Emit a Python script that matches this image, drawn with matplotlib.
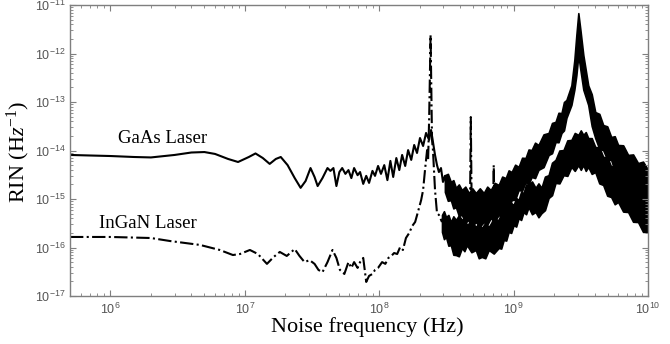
import matplotlib
matplotlib.use("Agg")
import matplotlib.pyplot as plt
from matplotlib.ticker import LogLocator, FuncFormatter, NullFormatter
import numpy as np

plt.rcParams['mathtext.fontset'] = 'custom'
plt.rcParams['mathtext.rm'] = 'Liberation Serif'
plt.rcParams['mathtext.it'] = 'Liberation Serif:italic'

# ---------------- data ----------------
# GaAs laser: low-frequency line (Hz, 1/Hz)
gaas_freq = [5e5, 7e5, 1e6, 1.5e6, 2e6, 3e6, 4e6, 5e6, 6e6, 7.5e6, 8.9e6,
             1.07e7, 1.2e7, 1.36e7, 1.53e7, 1.7e7, 1.85e7, 2.08e7, 2.35e7, 2.6e7, 2.83e7,
             3.08e7, 3.3e7, 3.48e7, 3.78e7, 4.12e7, 4.33e7, 4.56e7, 4.8e7, 5.05e7, 5.3e7,
             5.6e7, 5.9e7, 6.2e7, 6.5e7, 6.9e7, 7.2e7, 7.6e7, 8.0e7, 8.4e7, 8.9e7,
             9.3e7, 9.8e7, 1.03e8, 1.09e8, 1.15e8, 1.21e8, 1.27e8, 1.34e8, 1.41e8, 1.48e8,
             1.56e8, 1.64e8, 1.73e8, 1.82e8, 1.91e8, 2.01e8, 2.12e8, 2.23e8, 2.35e8, 2.43e8,
             2.51e8, 2.6e8, 2.69e8, 2.78e8, 2.88e8, 2.98e8, 3.08e8, 3.19e8]
gaas_rin = [8.1e-15, 7.9e-15, 7.7e-15, 7.35e-15, 7.2e-15, 8.1e-15, 9.1e-15, 9.3e-15, 8.5e-15, 6.7e-15, 5.8e-15,
            7.35e-15, 8.7e-15, 7.0e-15, 5.3e-15, 6.7e-15, 7.35e-15, 5.0e-15, 2.7e-15, 1.7e-15, 2.35e-15,
            4.35e-15, 2.85e-15, 1.85e-15, 2.7e-15, 4.35e-15, 3.8e-15, 4.35e-15, 1.85e-15, 3.6e-15, 4.35e-15,
            3.3e-15, 3.95e-15, 2.7e-15, 4.35e-15, 3.1e-15, 3.6e-15, 2.05e-15, 3.0e-15, 2.15e-15, 3.8e-15,
            3.0e-15, 4.8e-15, 3.3e-15, 5.0e-15, 2.45e-15, 6.1e-15, 2.85e-15, 7.0e-15, 3.95e-15, 8.1e-15,
            4.8e-15, 1.02e-14, 6.4e-15, 1.3e-14, 8.9e-15, 1.81e-14, 1.24e-14, 2.3e-14, 1.65e-14, 2.65e-14,
            1.5e-14, 8.1e-15, 5.0e-15, 3.6e-15, 4.35e-15, 2.25e-15, 3.0e-15, 1.7e-15]

# GaAs laser: dense noise band above 300 MHz (upper / lower envelopes)
gaas_band_freq = [3.08e8, 3.24e8, 3.41e8, 3.56e8, 3.72e8, 3.91e8, 4.12e8, 4.37e8, 4.64e8, 4.93e8,
                  5.23e8, 5.6e8, 5.99e8, 6.36e8, 6.75e8, 7.23e8, 7.74e8, 8.22e8, 8.73e8, 9.18e8,
                  9.66e8, 1.026e9, 1.089e9, 1.156e9, 1.227e9, 1.292e9, 1.36e9, 1.443e9, 1.53e9, 1.669e9,
                  1.82e9, 1.93e9, 2.05e9, 2.157e9, 2.27e9, 2.368e9, 2.47e9, 2.69e9, 2.83e9, 2.93e9,
                  3.03e9, 3.14e9, 3.30e9, 3.59e9, 3.81e9, 4.05e9, 4.34e9, 4.64e9, 4.97e9, 5.32e9,
                  5.65e9, 5.99e9, 6.53e9, 7.11e9, 7.74e9, 8.43e9, 9.18e9, 1e10]
gaas_band_high = [3.1e-15, 3.3e-15, 2.25e-15, 2.45e-15, 1.7e-15, 2.0e-15, 1.53e-15, 1.8e-15, 1.33e-15, 1.66e-15,
                  1.33e-15, 1.66e-15, 1.33e-15, 1.8e-15, 1.53e-15, 2.15e-15, 1.95e-15, 2.9e-15, 2.7e-15, 3.9e-15,
                  3.6e-15, 5.1e-15, 4.6e-15, 7.1e-15, 7.0e-15, 1.05e-14, 1.02e-14, 1.45e-14, 1.3e-14, 2.15e-14,
                  2.3e-14, 3.7e-14, 3.9e-14, 6.0e-14, 5.9e-14, 1.0e-13, 1.1e-13, 2.2e-13, 7.3e-13, 2.41e-12,
                  6.8e-12, 3.05e-12, 9.3e-13, 2.2e-13, 1.45e-13, 6.2e-14, 5.7e-14, 3.35e-14, 3.15e-14, 1.9e-14,
                  1.97e-14, 1.3e-14, 1.28e-14, 8.1e-15, 8.3e-15, 5.5e-15, 5.9e-15, 4.0e-15]
gaas_band_low = [1.4e-15, 9.2e-16, 9.5e-16, 6.4e-16, 6.8e-16, 4.5e-16, 4.7e-16, 3.3e-16, 3.7e-16, 2.8e-16,
                 3.35e-16, 2.7e-16, 3.35e-16, 2.95e-16, 4.05e-16, 3.5e-16, 4.7e-16, 4.2e-16, 5.9e-16, 6.0e-16,
                 9.5e-16, 9.7e-16, 1.53e-15, 1.48e-15, 2.25e-15, 2.0e-15, 2.85e-15, 2.7e-15, 4.0e-15, 4.55e-15,
                 8.1e-15, 8.8e-15, 1.5e-14, 1.48e-14, 2.3e-14, 2.6e-14, 4.7e-14, 8.7e-14, 1.8e-13, 3.6e-13,
                 9.3e-13, 4.6e-13, 1.8e-13, 8.7e-14, 3.2e-14, 1.8e-14, 1.08e-14, 1.02e-14, 6.5e-15, 6.4e-15,
                 3.8e-15, 3.6e-15, 1.88e-15, 1.53e-15, 7.6e-16, 5.9e-16, 2.95e-16, 2.3e-16]

# InGaN laser: low-frequency line
ingan_freq = [5e5, 1e6, 2e6, 2.78e6, 4.64e6, 6.5e6, 8.15e6, 9.2e6, 1.09e7, 1.25e7, 1.46e7,
              1.64e7, 1.82e7, 2.05e7, 2.35e7, 2.55e7, 2.78e7, 3.03e7, 3.3e7, 3.53e7, 3.78e7,
              4.12e7, 4.49e7, 4.8e7, 5.1e7, 5.5e7, 5.9e7, 6.2e7, 6.5e7, 6.9e7, 7.2e7,
              7.6e7, 8.0e7, 8.4e7, 8.9e7, 9.3e7, 9.8e7, 1.05e8, 1.11e8, 1.17e8, 1.23e8,
              1.29e8, 1.36e8, 1.43e8, 1.5e8, 1.58e8, 1.67e8, 1.76e8, 1.85e8, 1.94e8, 2.05e8,
              2.12e8, 2.19e8, 2.27e8, 2.31e8, 2.35e8, 2.41e8, 2.47e8, 2.51e8, 2.6e8, 2.69e8,
              2.78e8, 2.93e8]
ingan_rin = [1.65e-16, 1.65e-16, 1.57e-16, 1.36e-16, 1.13e-16, 8.9e-17, 7.0e-17, 7.35e-17, 8.9e-17, 7.35e-17, 4.6e-17,
             6.4e-17, 8.1e-17, 6.7e-17, 9.3e-17, 6.7e-17, 5.0e-17, 5.5e-17, 4.6e-17, 3.45e-17, 3.1e-17,
             5.0e-17, 8.9e-17, 6.1e-17, 3.45e-17, 2.85e-17, 5.0e-17, 3.8e-17, 5.0e-17, 3.8e-17, 5.0e-17,
             6.1e-17, 1.95e-17, 2.6e-17, 2.85e-17, 3.45e-17, 3.8e-17, 5.0e-17, 4.6e-17, 6.1e-17, 6.7e-17,
             7.7e-17, 7.35e-17, 1.02e-16, 8.9e-17, 1.57e-16, 1.99e-16, 2.78e-16, 3.36e-16, 5.4e-16, 9.5e-16,
             1.53e-15, 3.96e-15, 1.02e-14, 6.4e-15, 4.25e-14, 2.4e-12, 1.65e-14, 1.02e-14, 1.53e-15, 5.1e-16,
             4.7e-16, 3.35e-16]

# InGaN laser: dense noise band
ingan_band_freq = [2.93e8, 3.03e8, 3.14e8, 3.27e8, 3.41e8, 3.56e8, 3.72e8, 3.91e8, 4.12e8, 4.3e8,
                   4.49e8, 4.85e8, 5.23e8, 5.5e8, 5.79e8, 6.15e8, 6.53e8, 7.11e8, 7.74e8, 8.08e8,
                   8.43e8, 8.8e8, 9.18e8, 9.58e8, 1.0e9, 1.044e9, 1.089e9, 1.136e9, 1.186e9, 1.237e9,
                   1.29e9, 1.37e9, 1.455e9, 1.53e9, 1.61e9, 1.71e9, 1.82e9, 1.93e9, 2.05e9, 2.19e9,
                   2.35e9, 2.51e9, 2.69e9, 2.85e9, 3.03e9, 3.16e9, 3.30e9, 3.44e9, 3.59e9, 3.81e9,
                   4.05e9, 4.34e9, 4.64e9, 4.97e9, 5.32e9, 5.65e9, 5.99e9, 6.53e9, 7.11e9, 7.74e9,
                   8.43e9, 9.18e9, 1e10]
ingan_band_high = [4.7e-16, 5.6e-16, 4.25e-16, 4.7e-16, 3.35e-16, 4.4e-16, 3.7e-16, 4.6e-16, 3.7e-16, 4.1e-16,
                   2.9e-16, 3.5e-16, 2.65e-16, 3.2e-16, 2.5e-16, 3.2e-16, 2.65e-16, 3.9e-16, 3.7e-16, 5.2e-16,
                   4.7e-16, 6.6e-16, 5.9e-16, 8.3e-16, 7.5e-16, 1.05e-15, 9.5e-16, 1.4e-15, 1.33e-15, 2.0e-15,
                   1.95e-15, 2.3e-15, 1.7e-15, 2.1e-15, 1.7e-15, 2.9e-15, 3.1e-15, 5.6e-15, 6.4e-15, 1.0e-14,
                   1.02e-14, 1.62e-14, 1.65e-14, 2.3e-14, 2.1e-14, 2.6e-14, 2.1e-14, 2.4e-14, 1.8e-14, 1.8e-14,
                   1.18e-14, 1.16e-14, 7.35e-15, 7.3e-15, 4.6e-15, 5.1e-15, 3.6e-15, 3.7e-15, 2.45e-15, 2.7e-15,
                   1.95e-15, 2.15e-15, 1.53e-15]
ingan_band_low = [2.1e-16, 1.49e-16, 1.65e-16, 1.09e-16, 1.12e-16, 7.1e-17, 7.0e-17, 6.6e-17, 9.8e-17, 8.4e-17,
                  1.12e-16, 8.0e-17, 8.9e-17, 6.0e-17, 6.4e-17, 6.0e-17, 8.9e-17, 7.5e-17, 9.8e-17, 9.5e-17,
                  1.43e-16, 1.39e-16, 2.1e-16, 2.0e-16, 2.9e-16, 2.7e-16, 4.05e-16, 3.7e-16, 5.4e-16, 4.85e-16,
                  6.8e-16, 4.85e-16, 5.4e-16, 4.2e-16, 5.1e-16, 5.9e-16, 1.05e-15, 1.2e-15, 2.15e-15, 2.1e-15,
                  3.1e-15, 3.0e-15, 4.6e-15, 3.8e-15, 5.0e-15, 4.0e-15, 5.0e-15, 3.8e-15, 4.6e-15, 3.3e-15,
                  3.6e-15, 2.1e-15, 1.95e-15, 1.17e-15, 1.1e-15, 7.8e-16, 8.7e-16, 5.5e-16, 5.4e-16, 3.4e-16,
                  3.35e-16, 2.1e-16, 2.1e-16]

# InGaN narrow spurious peaks
spike1_freq = [4.72e8, 4.80e8, 4.89e8]
spike1_rin = [2.5e-16, 4.9e-14, 2.5e-16]
spike2_freq = [6.99e8, 7.11e8, 7.24e8]
spike2_rin = [2.5e-16, 5.0e-15, 2.5e-16]

x_limits = (5e5, 1e10)
y_limits = (1e-17, 1e-11)

# ---------------- figure ----------------
fig = plt.figure(figsize=(6.7, 3.44), dpi=100)
ax = fig.add_axes([0.1045, 0.1395, 0.8627, 0.8459])
ax.set_xscale('log')
ax.set_yscale('log')

lw = 1.5
ax.plot(gaas_freq, gaas_rin, color='black', lw=lw, ls='-')
ax.fill_between(gaas_band_freq, gaas_band_low, gaas_band_high, color='black', lw=1.2, edgecolor='black')

ax.plot(ingan_freq, ingan_rin, color='black', lw=lw, ls='-.')
ax.fill_between(ingan_band_freq, ingan_band_low, ingan_band_high, color='black', lw=1.2, edgecolor='black')
ax.plot(spike1_freq, spike1_rin, color='black', lw=lw, ls='-.')
ax.plot(spike2_freq, spike2_rin, color='black', lw=lw, ls='-.')

ax.set_xlim(*x_limits)
ax.set_ylim(*y_limits)

serif = 'Liberation Serif'
ax.text(1.146e6, 1.81e-14, 'GaAs Laser', family=serif, fontsize=13.5, va='center', ha='left')
ax.text(8.15e5, 3.2e-16, 'InGaN Laser', family=serif, fontsize=13.5, va='center', ha='left')

ax.set_xlabel('Noise frequency (Hz)', family=serif, fontsize=16)
ax.set_ylabel('RIN (H$\\mathit{z}^{-1}$)', family=serif, fontsize=16)
ax.xaxis.set_label_coords(0.515, -0.107)
ax.xaxis.label.set_va('center')
ax.yaxis.set_label_coords(-0.09, 0.495)
ax.yaxis.label.set_va('center')

def fmt(v, pos):
    e = int(round(np.log10(v)))
    return '$\\mathregular{10^{%d}}$' % e

ax.xaxis.set_major_locator(LogLocator(base=10, numticks=20))
ax.yaxis.set_major_locator(LogLocator(base=10, numticks=20))
ax.xaxis.set_minor_locator(LogLocator(base=10, subs=np.arange(2, 10), numticks=50))
ax.yaxis.set_minor_locator(LogLocator(base=10, subs=np.arange(2, 10), numticks=50))
ax.xaxis.set_major_formatter(FuncFormatter(fmt))
ax.yaxis.set_major_formatter(FuncFormatter(fmt))
ax.xaxis.set_minor_formatter(NullFormatter())
ax.yaxis.set_minor_formatter(NullFormatter())

gray = '#7f7f7f'
for sp in ax.spines.values():
    sp.set_color(gray)
    sp.set_linewidth(1.0)
ax.tick_params(which='both', direction='in', top=True, right=True, color=gray)
ax.tick_params(which='major', length=4, width=0.8, labelsize=9, labelcolor='#555555')
ax.tick_params(axis='x', which='major', pad=4)
ax.tick_params(axis='y', which='major', pad=3)
ax.tick_params(which='minor', length=2, width=0.6)
for lab in ax.get_xticklabels() + ax.get_yticklabels():
    lab.set_family('Liberation Sans')

fig.savefig('out.png', dpi=100)
